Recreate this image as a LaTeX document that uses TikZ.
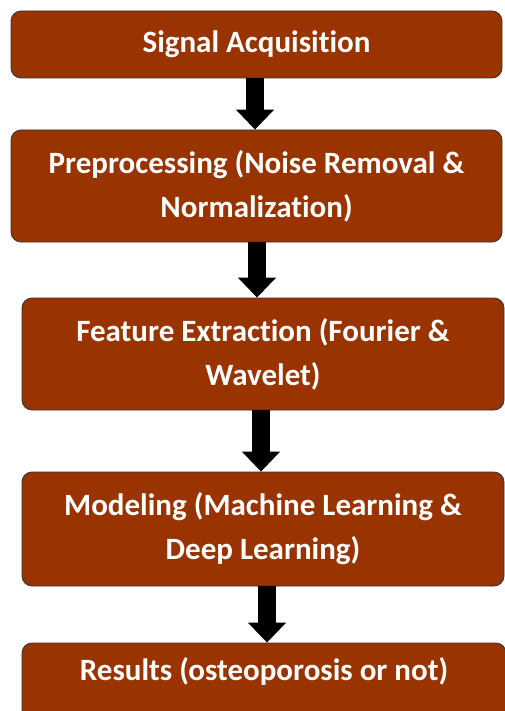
\documentclass[tikz,border=0pt]{standalone}
\usepackage{fontspec}
\setmainfont{Carlito}[Ligatures=NoCommon]
\usetikzlibrary{arrows.meta}
\definecolor{boxbrown}{RGB}{153,51,0}

\begin{document}
\begin{tikzpicture}[x=1pt,y=-1pt,
		stagebox/.style={draw=black!80, line width=0.8pt, fill=boxbrown, rounded corners=10pt, text=white, align=center, inner sep=0pt, font=\bfseries\fontsize{31}{44}\selectfont},
		flowarrow/.style={line width=18pt, -{Triangle[width=37pt,length=20pt]}, black}]
			\useasboundingbox (0,0) rectangle (504,711);
			\node[stagebox, minimum width=491pt, minimum height=67pt] (sig) at (256.5,44.5) {Signal Acquisition};
			\node[stagebox, minimum width=491pt, minimum height=112pt] (pre) at (256.5,186) {Preprocessing (Noise Removal \&\\Normalization)};
			\node[stagebox, minimum width=482pt, minimum height=112pt] (feat) at (263,354) {Feature Extraction (Fourier \&\\Wavelet)};
			\node[stagebox, minimum width=482pt, minimum height=114pt] (mod) at (263,529) {Modeling (Machine Learning \&\\Deep Learning)};
			\node[stagebox, minimum width=484pt, minimum height=84pt, text depth=32pt] (res) at (264,685) {Results (osteoporosis or not)};
			\draw[flowarrow] ([xshift=-1.5pt]sig.south) -- ([xshift=-1.5pt]sig.south |- pre.north);
			\draw[flowarrow] ([xshift=0.5pt]pre.south) -- ([xshift=0.5pt]pre.south |- feat.north);
			\draw[flowarrow] ([xshift=-2pt]feat.south) -- ([xshift=-2pt]feat.south |- mod.north);
			\draw[flowarrow] ([xshift=4pt]mod.south) -- ([xshift=4pt]mod.south |- res.north);
		\end{tikzpicture}
\end{document}
